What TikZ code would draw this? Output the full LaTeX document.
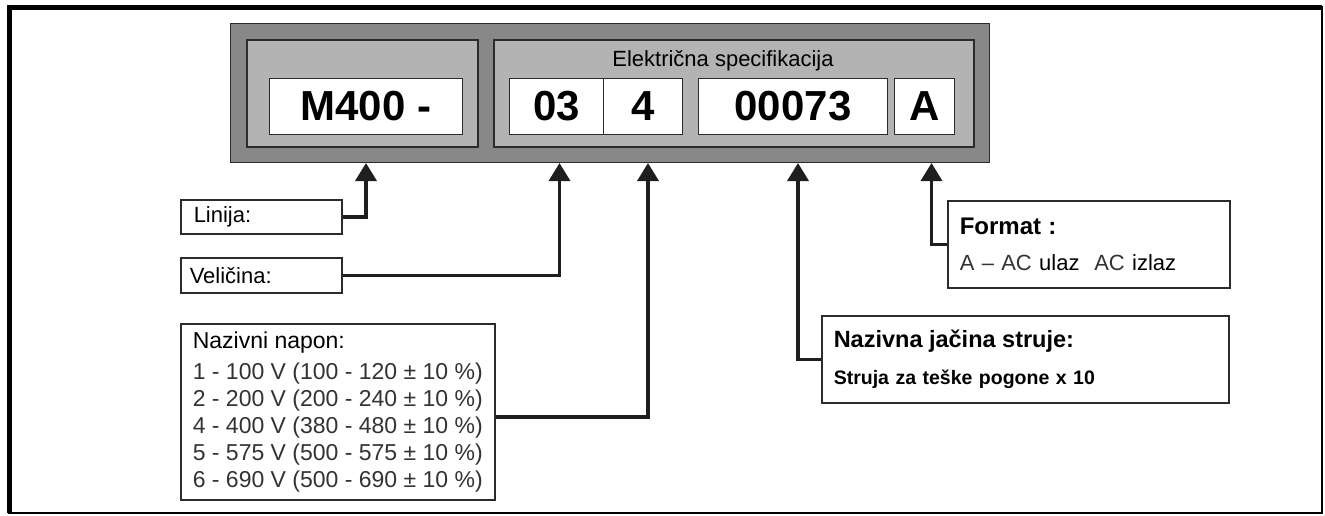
\documentclass[tikz,border=0pt]{standalone}
\usepackage{fontspec}
\setmainfont{Liberation Sans}
\usepackage{xcolor}
\usetikzlibrary{positioning,calc,arrows.meta}
\definecolor{platedark}{HTML}{888888}
\definecolor{platelight}{HTML}{B3B3B3}
\definecolor{edge}{HTML}{2B2B2B}
\definecolor{txtgray}{HTML}{333333}
\tikzset{
  plate/.style={draw=edge, line width=1pt, fill=platedark, anchor=north west, inner sep=0pt},
  field/.style={draw=edge, line width=1.5pt, fill=platelight, anchor=north west, inner sep=0pt},
  cell/.style={draw=edge, line width=1pt, fill=white, anchor=north west, inner sep=0pt,
    minimum height=56pt, font=\fontsize{42}{48}\selectfont\bfseries},
  infobox/.style={draw=edge, line width=1.5pt, fill=white, anchor=north west, align=left,
    inner xsep=12pt, inner ysep=0pt},
  pointer/.style={draw=black!88, line width=3.5pt, -{Triangle[length=18pt,width=21pt]}}
}

\begin{document}
\begin{tikzpicture}[x=1pt,y=-1pt]
\useasboundingbox (0,0) rectangle (1325,515);
% Frame
\draw[line width=1.5pt] (9,7) rectangle (1322,513);
\draw[line width=5pt] (9,513) -- (9,7) -- (1322,7);

% Type plate
\node[plate, minimum width=759pt, minimum height=139pt] (plate) at (230,23) {};
\node[field, minimum width=231pt, minimum height=107pt] (fieldL) at (246,39) {};
\node[field, minimum width=480pt, minimum height=107pt] (fieldR) at (493,39) {};
\node[font=\fontsize{22}{25}\selectfont] (title) at (723,61) {Električna specifikacija};
\foreach \name/\x/\w/\txt in {cellM/269/193/{M400 -}, cellS/509/94/03, cellV/603/79/4,
    cellI/698/189/00073, cellF/894/60/A} {
    \node[cell, minimum width=\w pt] (\name) at (\x,78) {\txt};
}

% Labels
\node[infobox, minimum width=161pt, minimum height=34pt, text width=135pt, inner xsep=13pt,
  font=\fontsize{22}{26}\selectfont] (lin) at (180,199) {Linija:};
\node[infobox, minimum width=161pt, minimum height=35pt, text width=143pt, inner xsep=9pt,
  font=\fontsize{22}{26}\selectfont] (vel) at (180,257) {Veličina:};
\node[infobox, minimum width=310pt, minimum height=176pt, text=txtgray,
  font=\fontsize{23}{27}\selectfont] (nap) at (180,323)
  {\textcolor{black}{Nazivni napon:}\\[4pt]
   1 - 100 V (100 - 120 ± 10 \%)\\
   2 - 200 V (200 - 240 ± 10 \%)\\
   4 - 400 V (380 - 480 ± 10 \%)\\
   5 - 575 V (500 - 575 ± 10 \%)\\
   6 - 690 V (500 - 690 ± 10 \%)};
\node[infobox, minimum width=282pt, minimum height=87pt, text width=258pt,
  font=\fontsize{22}{36}\selectfont] (fmt) at (947,200)
  {{\fontsize{24}{29}\selectfont\bfseries Format :}\\
   \textcolor{txtgray}{A – AC} ulaz\ \ \textcolor{txtgray}{AC}\ izlaz};
\node[infobox, minimum width=407pt, minimum height=87pt, text width=383pt,
  font=\fontsize{19.5}{37}\selectfont\bfseries] (nom) at (821,315)
  {{\fontsize{23.5}{28}\selectfont Nazivna jačina struje:}\\
   Struja za teške pogone x 10};

% Pointers
\draw[pointer] (lin.east) -| (cellM.south |- plate.south);
\draw[pointer] (vel.east) -| ([xshift=3pt]cellS.south |- plate.south);
\draw[pointer] ([yshift=-5pt]nap.east) -| ([xshift=5pt]cellV.south |- plate.south);
\draw[pointer] (nom.west) -| ([xshift=5pt]cellI.south |- plate.south);
\draw[pointer] (fmt.west) -| ([xshift=7pt]cellF.south |- plate.south);
\end{tikzpicture}
\end{document}
